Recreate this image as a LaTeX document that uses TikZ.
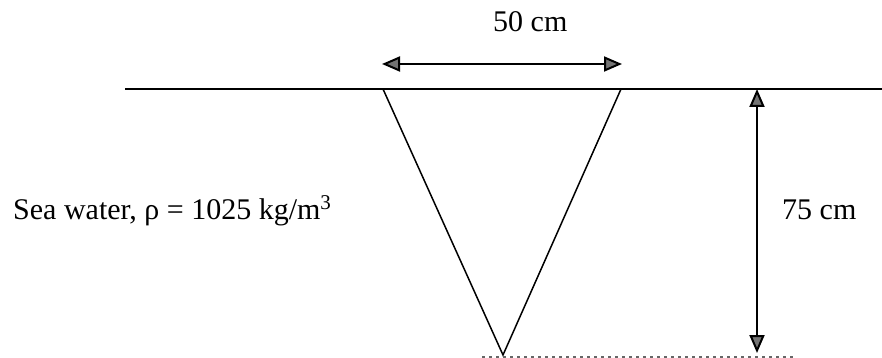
\documentclass[tikz,border=0pt]{standalone}
\usepackage{fontspec}
\setmainfont{Liberation Serif}
\usetikzlibrary{arrows.meta}
\begin{document}
\begin{tikzpicture}[x=1pt,y=-1pt,
  tipshape/.style={Triangle[length=18pt,width=15pt,fill=black!55]},
  dimarrow/.style={line width=2pt,{Triangle[length=18pt,width=15pt,fill=black!55]}-{Triangle[length=18pt,width=15pt,fill=black!55]}},
  thinline/.style={line width=1.5pt},
  lbl/.style={font=\fontsize{30}{36}\selectfont,inner sep=0pt}]
\useasboundingbox (0,0) rectangle (882,358);
% coordinates
\coordinate (sL) at (125,89);
\coordinate (sR) at (882,89);
\coordinate (tL) at (383,89);
\coordinate (tR) at (621,89);
\coordinate (apex) at (503,355);
\coordinate (wL) at (382,64);
\coordinate (wR) at (622,64);
\coordinate (hT) at (757,89);
\coordinate (hB) at (757,353);
\coordinate (bL) at (482,357);
\coordinate (bR) at (795,357);
% surface
\draw[thinline] (sL) -- (sR);
% triangle
\draw[thinline] (tL) -- (apex) -- (tR);
% bottom hatched line
\draw[line width=2pt,black!60,dash pattern=on 3pt off 4pt] (bL) -- (bR);
% dimension arrows
\draw[dimarrow] (wL) -- (wR);
\draw[dimarrow] (hT) -- (hB);
% labels
\node[lbl,anchor=base west] (w) at (493,32) {50 cm};
\node[lbl,anchor=base west] (h) at (782,219) {75 cm};
\node[lbl,anchor=base west] (sea) at (13,219) {Sea water, ρ = 1025 kg/m\textsuperscript{3}};
\end{tikzpicture}
\end{document}
